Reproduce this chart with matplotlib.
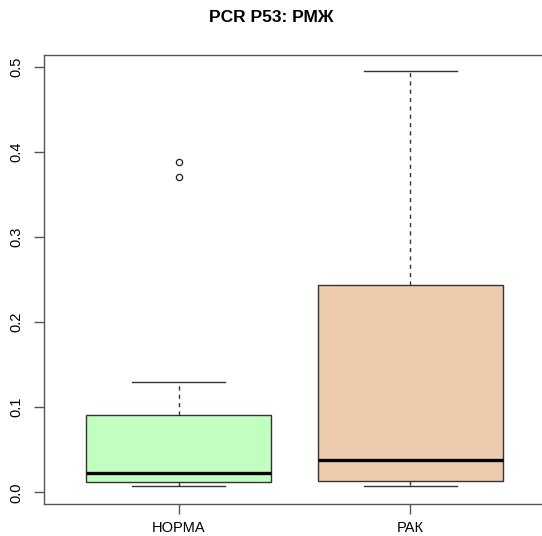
import matplotlib.pyplot as plt

plt.rcParams['font.family'] = ['Liberation Sans', 'DejaVu Sans']

# box statistics
groups = ['НОРМА', 'РАК']
whislo = [0.0071, 0.0078]
q1 = [0.0121, 0.0137]
med = [0.0227, 0.0377]
q3 = [0.0910, 0.2433]
whishi = [0.1300, 0.4942]
fliers = [[0.3706, 0.3875], []]
colors = ['#C1FFC1', '#EECBAD']

stats = []
for i in range(len(groups)):
    stats.append(dict(label=groups[i], whislo=whislo[i], q1=q1[i], med=med[i],
                      q3=q3[i], whishi=whishi[i], fliers=fliers[i]))

fig = plt.figure(figsize=(5.42, 5.36), dpi=100)
ax = fig.add_axes([44 / 542, 32 / 536, 501 / 542, 449 / 536])

edge = '#333333'
bp = ax.bxp(stats, positions=[1, 2], widths=0.8, patch_artist=True,
            boxprops=dict(edgecolor=edge, linewidth=1.0),
            medianprops=dict(color='black', linewidth=2.4, solid_capstyle='butt'),
            whiskerprops=dict(color=edge, linewidth=1.0, linestyle=(0, (3, 3))),
            capprops=dict(color=edge, linewidth=1.0),
            flierprops=dict(marker='o', markersize=4.5, markerfacecolor='none',
                            markeredgecolor='#222222', markeredgewidth=0.9))
for patch, c in zip(bp['boxes'], colors):
    patch.set_facecolor(c)
for cap in bp['caps']:
    x0, x1 = cap.get_xdata()
    c = (x0 + x1) / 2
    cap.set_xdata([c - 0.2, c + 0.2])

ax.set_xlim(0.42, 2.58)
ax.set_ylim(-0.0135, 0.5135)
ax.set_yticks([0.0, 0.1, 0.2, 0.3, 0.4, 0.5])
ax.set_yticklabels(['0.0', '0.1', '0.2', '0.3', '0.4', '0.5'], rotation=90, va='center')
ax.set_xticks([1, 2])
ax.set_xticklabels(groups)

for s in ax.spines.values():
    s.set_color('#555555')
    s.set_linewidth(1.0)
ax.tick_params(axis='both', colors='#555555', labelcolor='black', labelsize=10.5,
               length=7, width=1.0)
ax.tick_params(axis='x', pad=5.5)
ax.tick_params(axis='y', pad=8)

fig.text(0.5, 1 - 18 / 536, 'PCR P53: РМЖ', ha='center', va='center',
         fontsize=12.5, fontweight='bold')

fig.savefig('out.png', dpi=100)
